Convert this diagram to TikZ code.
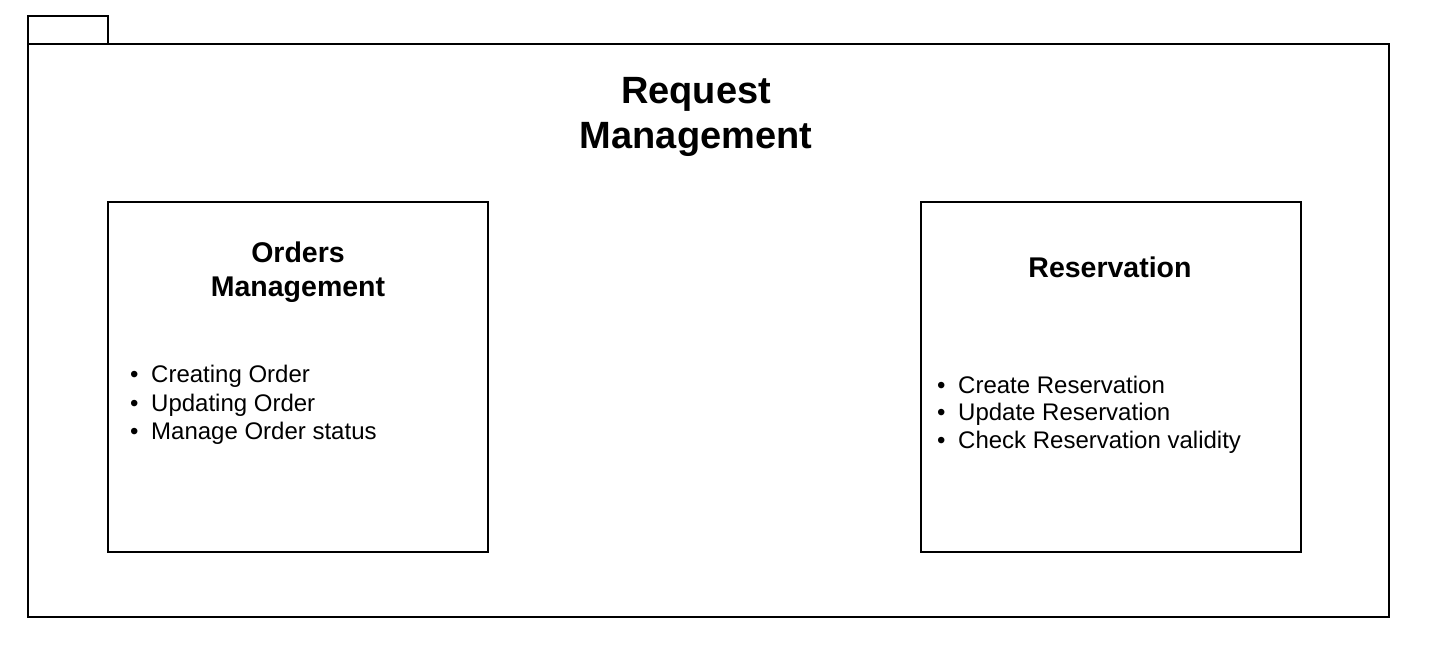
\documentclass[tikz,border=0pt]{standalone}
\usepackage{fontspec}
\setmainfont{Liberation Sans}
\begin{document}
\begin{tikzpicture}[x=1pt,y=-1pt,
  frame/.style={draw=black,line width=1.6pt,inner sep=0pt,outer sep=0pt},
  bigtitle/.style={font=\fontsize{38}{45}\selectfont\bfseries,align=center,inner sep=0pt},
  boxtitle/.style={font=\fontsize{28.5}{34}\selectfont\bfseries,align=center,inner sep=0pt},
  item/.style={font=\fontsize{24}{29}\selectfont,anchor=west,inner sep=0pt}
]
\useasboundingbox[fill=white] (0,0) rectangle (1434,646);
\node[frame,minimum width=1361pt,minimum height=573pt] (pkg) at (708.5,330.5) {};
\node[frame,minimum width=80pt,minimum height=28pt] (tab) at (68,30) {};
\node[bigtitle] (title) at (696,117) {Request\\Management};
\node[frame,minimum width=380pt,minimum height=350pt] (orders) at (298,377) {};
\node[frame,minimum width=380pt,minimum height=350pt] (resv) at (1111,377) {};
\node[boxtitle] (otitle) at (298,272) {Orders\\Management};
\node[boxtitle] (rtitle) at (1110,267) {Reservation};
\node[item] (o1) at (130,376) {\textbullet\hspace{12.6pt}Creating Order};
\node[item] (o2) at (130,405) {\textbullet\hspace{12.6pt}Updating Order};
\node[item] (o3) at (130,433) {\textbullet\hspace{12.6pt}Manage Order status};
\node[item] (r1) at (937,385) {\textbullet\hspace{12.6pt}Create Reservation};
\node[item] (r2) at (937,414) {\textbullet\hspace{12.6pt}Update Reservation};
\node[item] (r3) at (937,442) {\textbullet\hspace{12.6pt}Check Reservation validity};
\end{tikzpicture}
\end{document}
